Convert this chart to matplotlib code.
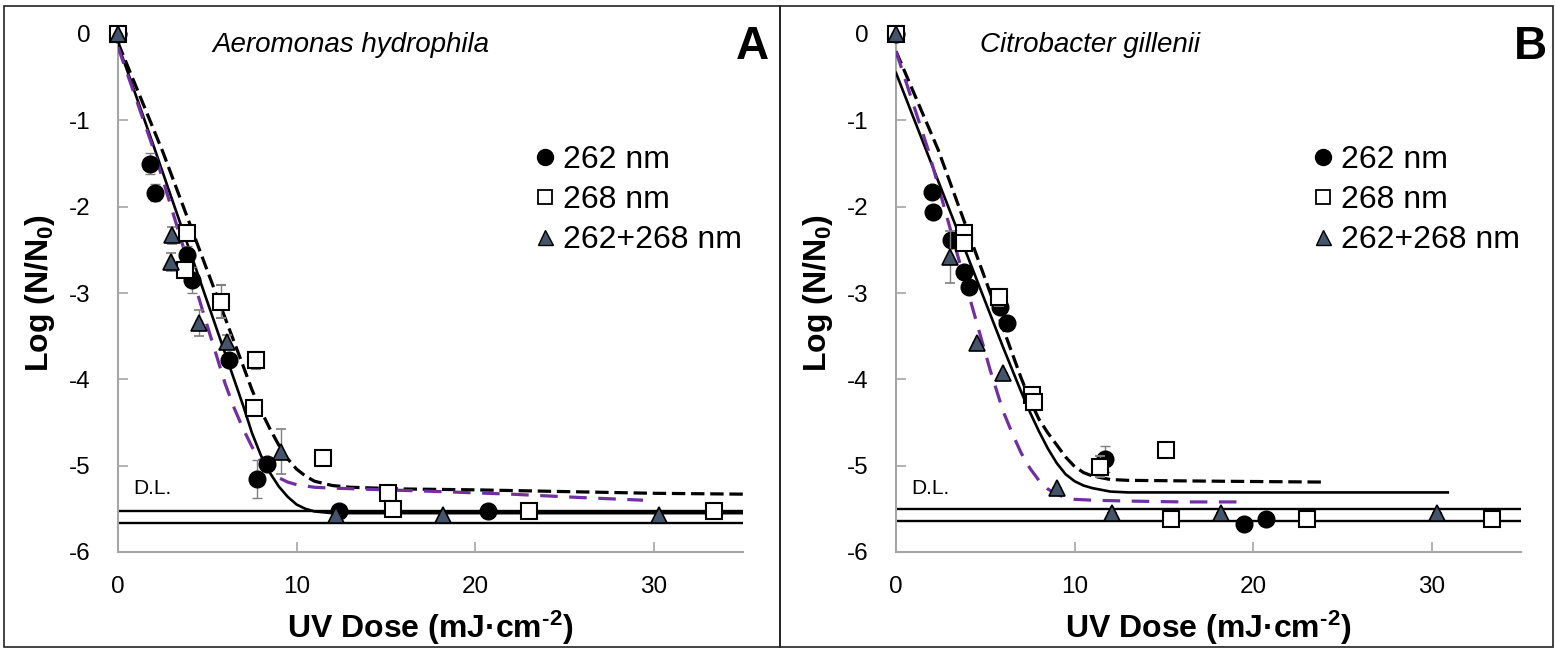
import matplotlib
matplotlib.use("Agg")
import matplotlib.pyplot as plt
from matplotlib.lines import Line2D

plt.rcParams['font.family'] = ['Liberation Sans', 'DejaVu Sans']
plt.rcParams['axes.unicode_minus'] = False
plt.rcParams['mathtext.fontset'] = 'custom'
plt.rcParams['mathtext.rm'] = 'Liberation Sans:bold'
plt.rcParams['mathtext.bf'] = 'Liberation Sans:bold'
plt.rcParams['mathtext.it'] = 'Liberation Sans:bold'

# ---- Panel A: Aeromonas hydrophila ----
circ_A_x = [0, 1.8, 2.07, 3.87, 4.15, 6.2, 7.8, 8.35, 12.4, 20.7]
circ_A_y = [0, -1.50, -1.84, -2.56, -2.85, -3.78, -5.16, -4.98, -5.52, -5.52]
circ_A_err = [0, 0.12, 0.10, 0.10, 0.15, 0.06, 0.22, 0.05, 0, 0]
sq_A_x = [0, 3.88, 3.76, 5.77, 7.74, 7.6, 11.5, 15.1, 15.4, 23.0, 33.4]
sq_A_y = [0, -2.31, -2.73, -3.10, -3.78, -4.33, -4.91, -5.32, -5.50, -5.52, -5.52]
sq_A_err = [0, 0.08, 0.06, 0.19, 0.10, 0.05, 0, 0, 0, 0, 0]
tri_A_x = [0, 3.03, 2.97, 4.55, 6.1, 9.1, 12.2, 18.2, 30.3]
tri_A_y = [0, -2.33, -2.64, -3.35, -3.57, -4.84, -5.57, -5.57, -5.57]
tri_A_err = [0, 0.10, 0.10, 0.15, 0.08, 0.26, 0, 0, 0]

fit262_A_x = [0, 2, 4, 5, 6, 6.5, 7, 7.5, 8, 8.5, 9, 9.5, 10, 10.5, 11, 12, 35]
fit262_A_y = [-0.12, -1.30, -2.50, -3.10, -3.70, -4.00, -4.30, -4.62, -4.88, -5.08,
              -5.24, -5.36, -5.45, -5.50, -5.53, -5.55, -5.55]
fit268_A_x = [0, 2.5, 5, 7, 7.5, 8, 8.5, 9, 9.5, 10, 10.5, 11, 12, 13, 16, 20, 25, 30, 35]
fit268_A_y = [-0.10, -1.36, -2.74, -3.84, -4.12, -4.36, -4.57, -4.76, -4.92, -5.04,
              -5.12, -5.18, -5.23, -5.25, -5.27, -5.28, -5.30, -5.32, -5.33]
fitmix_A_x = [0, 2, 4, 5, 6, 6.5, 7, 7.5, 8, 8.5, 9, 9.5, 10, 11, 12, 15, 18, 22, 26, 29.4]
fitmix_A_y = [-0.15, -1.34, -2.70, -3.38, -4.05, -4.33, -4.57, -4.78, -4.95, -5.07,
              -5.14, -5.19, -5.22, -5.25, -5.26, -5.28, -5.30, -5.33, -5.37, -5.40]
dl_A = [-5.52, -5.66]

# ---- Panel B: Citrobacter gillenii ----
circ_B_x = [0, 2.0, 2.06, 3.08, 3.8, 4.1, 5.83, 6.2, 11.7, 19.5, 20.7]
circ_B_y = [0, -1.83, -2.06, -2.39, -2.76, -2.93, -3.16, -3.35, -4.92, -5.67, -5.62]
circ_B_err = [0, 0, 0, 0, 0, 0, 0, 0, 0.15, 0, 0]
sq_B_x = [0, 3.8, 3.8, 5.78, 7.6, 7.7, 11.4, 15.1, 15.4, 23.0, 33.4]
sq_B_y = [0, -2.30, -2.42, -3.05, -4.18, -4.26, -5.01, -4.82, -5.62, -5.62, -5.62]
sq_B_err = [0, 0.06, 0, 0.10, 0, 0, 0.12, 0, 0, 0, 0]
tri_B_x = [0, 3.03, 4.54, 6.0, 9.0, 12.1, 18.2, 30.3]
tri_B_y = [0, -2.58, -3.58, -3.93, -5.26, -5.55, -5.55, -5.55]
tri_B_err = [0, 0.30, 0, 0, 0, 0, 0, 0]

fit262_B_x = [0, 2, 4, 6, 7, 7.5, 8, 8.5, 9, 9.5, 10, 10.5, 11, 12, 13, 30.9]
fit262_B_y = [-0.45, -1.51, -2.57, -3.63, -4.14, -4.38, -4.60, -4.80, -4.97, -5.10,
              -5.18, -5.23, -5.26, -5.30, -5.31, -5.31]
fit268_B_x = [0, 2.36, 5, 7, 7.5, 8, 8.5, 9, 9.5, 10, 10.5, 11, 12, 13, 18, 23.9]
fit268_B_y = [-0.20, -1.34, -2.84, -3.98, -4.24, -4.46, -4.62, -4.76, -4.90, -5.01,
              -5.08, -5.12, -5.16, -5.17, -5.18, -5.19]
fitmix_B_x = [0, 1.8, 3.5, 5.27, 6, 6.5, 7, 7.5, 8, 8.5, 9, 9.5, 10, 11, 13, 16, 19.2]
fitmix_B_y = [-0.20, -1.34, -2.60, -3.89, -4.37, -4.62, -4.85, -5.03, -5.17, -5.27,
              -5.33, -5.37, -5.39, -5.40, -5.41, -5.42, -5.42]
dl_B = [-5.50, -5.64]

species = ['Aeromonas hydrophila', 'Citrobacter gillenii']
species_x = [0.373, 0.31]
panel_letters = ['A', 'B']
labels = ['262 nm', '268 nm', '262+268 nm']
x_ticks = [0, 10, 20, 30]
y_ticks = [0, -1, -2, -3, -4, -5, -6]

TRI = '#44546a'
PURPLE = '#7030a0'
SPINE = '#a6a6a6'

fig = plt.figure(figsize=(15.55, 6.48), dpi=100)

# panel frames
W, H = 1555.0, 648.0
for x0, x1 in [(4, 780), (780, 1553)]:
    fig.add_artist(plt.Rectangle((x0 / W, 1 / H), (x1 - x0) / W, 641 / H,
                                 transform=fig.transFigure, fill=False,
                                 edgecolor='#222222', lw=1.2))


def draw_panel(ax, circ, sq, tri, f262, f268, fmix, dl, name, name_x, letter):
    ax.set_xlim(0, 35)
    ax.set_ylim(-6, 0)
    for y in dl:
        ax.axhline(y, color='black', lw=1.7, zorder=2)
    ax.plot(f262[0], f262[1], color='black', lw=1.9, zorder=3)
    ax.plot(f268[0], f268[1], color='black', lw=2.3, dashes=(4.2, 1.8), zorder=3)
    ax.plot(fmix[0], fmix[1], color=PURPLE, lw=2.3, dashes=(5.5, 3.6), zorder=3)

    ax.errorbar(circ[0], circ[1], yerr=circ[2], fmt='o', ms=12, mfc='black',
                mec='black', ecolor='#7f7f7f', elinewidth=1, capsize=3.5,
                zorder=5, clip_on=False)
    ax.errorbar(sq[0], sq[1], yerr=sq[2], fmt='s', ms=11, mfc='white',
                mec='black', mew=1.5, ecolor='#7f7f7f', elinewidth=1, capsize=3.5,
                zorder=6, clip_on=False)
    ax.errorbar(tri[0], tri[1], yerr=tri[2], fmt='^', ms=12, mfc=TRI,
                mec='black', mew=1.2, ecolor='#7f7f7f', elinewidth=1, capsize=3.5,
                zorder=7, clip_on=False)

    ax.text(0.85, -5.26, 'D.L.', fontsize=15, va='center', ha='left')
    ax.text(name_x, 0.979, name, transform=ax.transAxes, fontsize=20,
            style='italic', ha='center', va='center')
    ax.text(1.015, 0.975, letter, transform=ax.transAxes, fontsize=33,
            fontweight='bold', ha='center', va='center')

    handles = [
        Line2D([], [], marker='o', ls='none', ms=11.5, mfc='black', mec='black'),
        Line2D([], [], marker='s', ls='none', ms=9.4, mfc='white', mec='black', mew=1.3),
        Line2D([], [], marker='^', ls='none', ms=10.8, mfc=TRI, mec='black', mew=1.0),
    ]
    ax.legend(handles, labels, loc='upper left', bbox_to_anchor=(0.668, 0.785),
              frameon=False, fontsize=23, handlelength=0.6, handletextpad=0.25,
              labelspacing=0.31, borderpad=0, borderaxespad=0)

    ax.set_xticks(x_ticks)
    ax.set_xticklabels([str(v) for v in x_ticks])
    ax.set_yticks(y_ticks)
    ax.set_yticklabels([str(v) for v in y_ticks])
    ax.tick_params(direction='in', length=7, width=1.2, color=SPINE,
                   labelsize=17.5, pad=20)
    ax.tick_params(axis='x', pad=17)
    for s in ['top', 'right']:
        ax.spines[s].set_visible(False)
    for s in ['left', 'bottom']:
        ax.spines[s].set_color(SPINE)
        ax.spines[s].set_linewidth(1.5)
    ax.set_ylabel('Log (N/N$_{0}$)', fontsize=23, fontweight='bold', labelpad=8)
    ax.set_xlabel('UV Dose (mJ·cm$^{\\text{-2}}$)', fontsize=23, fontweight='bold',
                  labelpad=8)


axA = fig.add_axes([118 / W, 96 / H, 625 / W, 518 / H])
axB = fig.add_axes([896 / W, 96 / H, 625 / W, 518 / H])

draw_panel(axA, (circ_A_x, circ_A_y, circ_A_err), (sq_A_x, sq_A_y, sq_A_err),
           (tri_A_x, tri_A_y, tri_A_err), (fit262_A_x, fit262_A_y),
           (fit268_A_x, fit268_A_y), (fitmix_A_x, fitmix_A_y), dl_A,
           species[0], species_x[0], panel_letters[0])
draw_panel(axB, (circ_B_x, circ_B_y, circ_B_err), (sq_B_x, sq_B_y, sq_B_err),
           (tri_B_x, tri_B_y, tri_B_err), (fit262_B_x, fit262_B_y),
           (fit268_B_x, fit268_B_y), (fitmix_B_x, fitmix_B_y), dl_B,
           species[1], species_x[1], panel_letters[1])

fig.savefig('out.png', dpi=100)
